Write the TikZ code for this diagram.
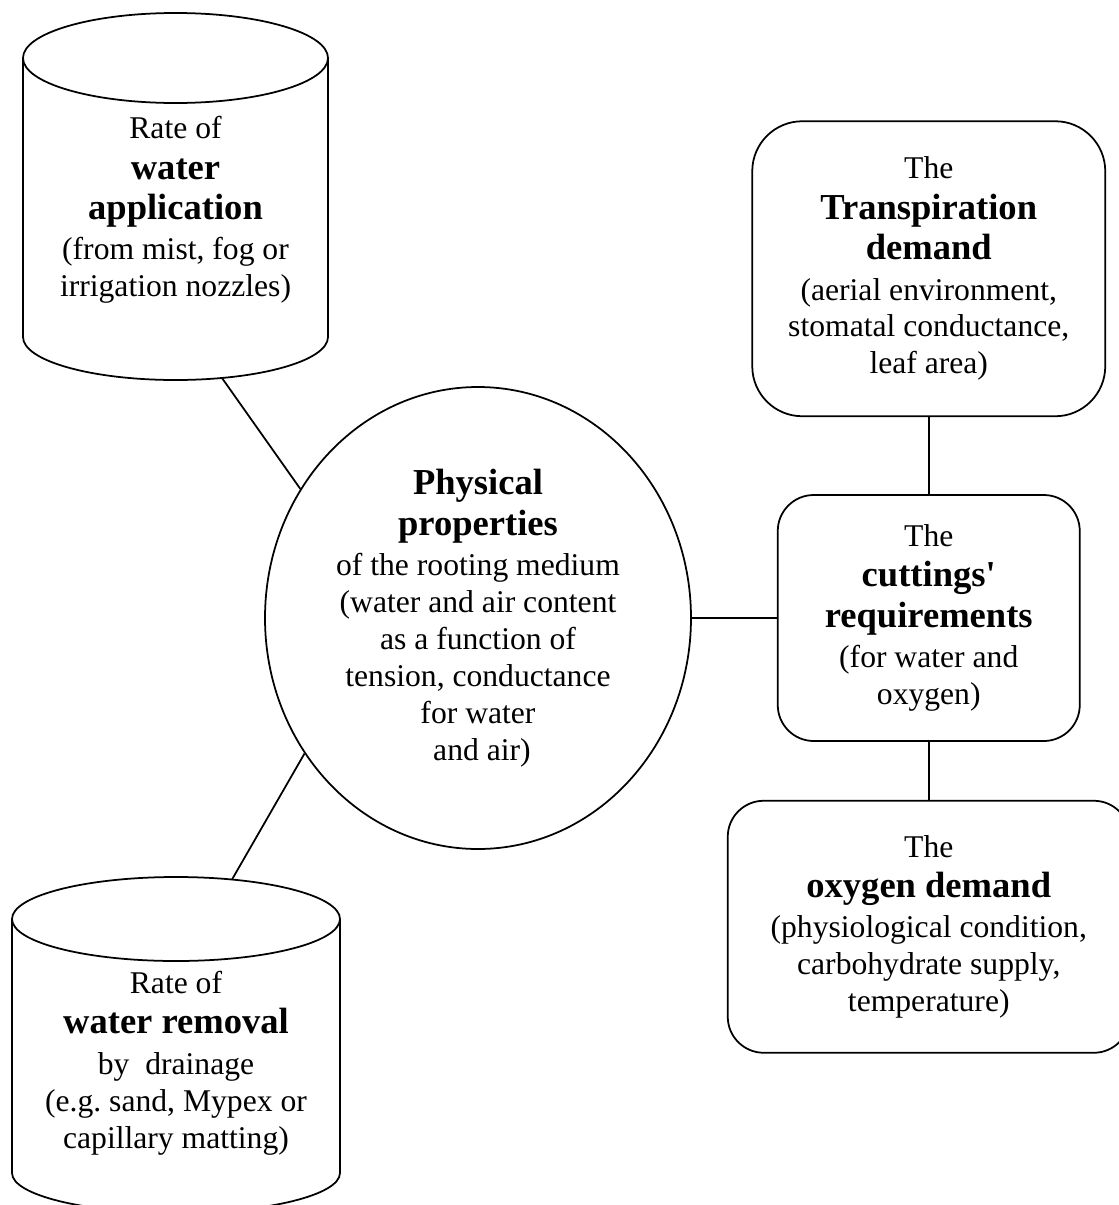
\documentclass[tikz,border=0pt]{standalone}
\usepackage{fontspec}
\setmainfont{Liberation Serif}
\usetikzlibrary{positioning,shapes.geometric}
\newcommand{\term}[1]{{\fontsize{20.8}{23}\selectfont\bfseries #1}}
\frenchspacing

\begin{document}
\begin{tikzpicture}[
  txt/.style={align=center,font=\fontsize{18}{21}\selectfont,inner sep=0pt},
  hub/.style={txt,draw,ellipse,line width=1pt,minimum width=85.2mm,minimum height=92.4mm},
  rbox/.style={txt,draw,line width=1pt,rounded corners=7.2mm},
  tank/.style={line width=1pt},
  link/.style={line width=1pt}]
  \useasboundingbox (0,0) rectangle (22.38,-24.1);
  % centre
  \node[hub] (phys) at (9.56,-12.36)
    {\term{Physical}\\[2pt] \term{properties}\\[2pt] of the rooting medium\\
     (water and air content\\ as a function of\\ tension, conductance\\
     for water\\ \ and air)};
  % right column
  \node[rbox,minimum width=60.4mm,minimum height=49.2mm,right=17mm of phys] (need)
    {The\\[2pt] \term{cuttings\textquotesingle}\\[2pt] \term{requirements}\\[2pt]
     (for water and\\ oxygen)};
  \node[rbox,minimum width=70.6mm,minimum height=59mm,rounded corners=10mm,above=15.4mm of need] (trans)
    {The\\[2pt] \term{Transpiration}\\[2pt] \term{demand}\\[2pt]
     (aerial environment,\\ stomatal conductance,\\ leaf area)};
  \node[rbox,minimum width=80.4mm,minimum height=50.4mm,below=11.6mm of need] (oxy)
    {The\\[2pt] \term{oxygen demand}\\[2pt] (physiological condition,\\
     carbohydrate supply,\\ temperature)};
  % tanks
  \draw[tank] (3.51,-1.16) ellipse (3.05 and 0.9);
  \draw[tank] (0.46,-1.16) -- (0.46,-6.74) arc (180:360:3.05 and 0.86) -- (6.56,-1.16);
  \node[txt] (app) at (3.51,-4.2)
    {Rate of\\[2pt] \term{water}\\[2pt] \term{application}\\[2pt]
     (from mist, fog or\\ irrigation nozzles)};
  \draw[tank] (3.52,-18.38) ellipse (3.28 and 0.84);
  \draw[tank] (0.24,-18.38) -- (0.24,-23.46) arc (180:360:3.28 and 0.8) -- (6.80,-18.38);
  \node[txt] (rem) at (3.52,-21.26)
    {Rate of\\[2pt] \term{water removal}\\[2pt] by\ \ drainage\\
     (e.g. sand, Mypex or\\ capillary matting)};
  % links
  \coordinate (appfoot) at (4.44,-7.56);
  \coordinate (remtop) at (4.64,-17.59);
  \draw[link] (appfoot) -- (phys.144);
  \draw[link] (phys.218) -- (remtop);
  \draw[link] (phys) -- (need);
  \draw[link] (trans) -- (need);
  \draw[link] (need) -- (oxy);
\end{tikzpicture}
\end{document}
